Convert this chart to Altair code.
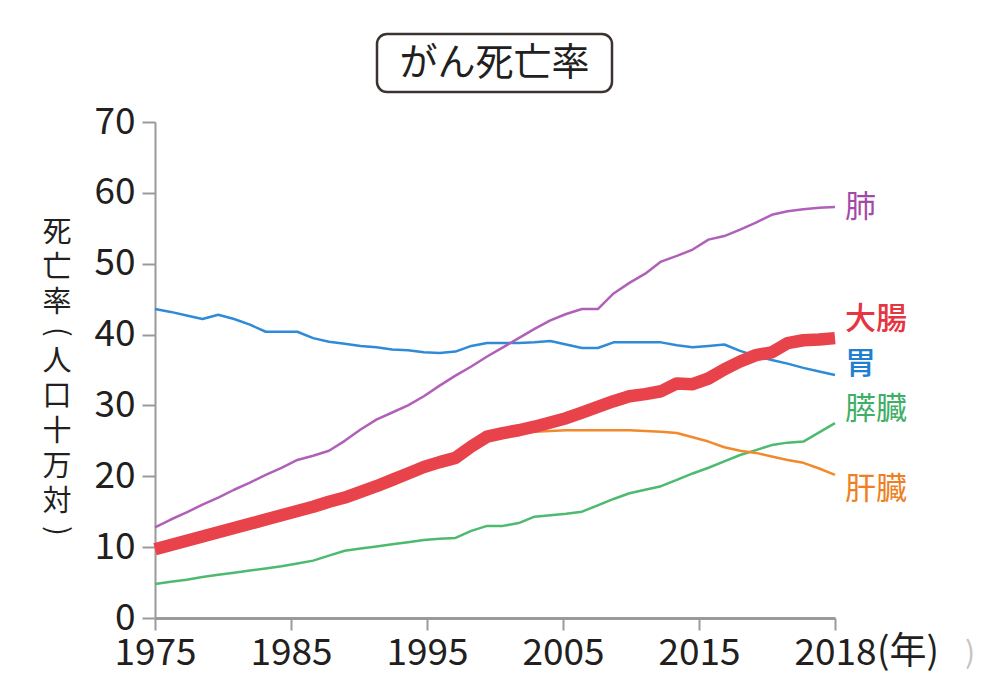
import altair as alt
import pandas as pd

# ---------------- data ----------------
years = list(range(1975, 2019))

lung = [12.8, 13.9, 14.9, 16.0, 17.0, 18.1, 19.1, 20.2, 21.2, 22.3,
        22.9, 23.6, 25.0, 26.6, 28.0, 29.0, 30.0, 31.3, 32.8, 34.2,
        35.5, 36.9, 38.2, 39.5, 40.8, 42.0, 42.9, 43.6, 43.6, 45.8,
        47.3, 48.6, 50.3, 51.1, 52.0, 53.4, 53.9, 54.8, 55.8, 56.9,
        57.4, 57.7, 57.9, 58.0]

stomach = [43.6, 43.2, 42.7, 42.2, 42.8, 42.2, 41.4, 40.4, 40.4, 40.4,
           39.5, 39.0, 38.7, 38.4, 38.2, 37.9, 37.8, 37.5, 37.4, 37.6,
           38.4, 38.8, 38.8, 38.8, 38.9, 39.1, 38.6, 38.1, 38.1, 38.9,
           38.9, 38.9, 38.9, 38.5, 38.2, 38.4, 38.6, 37.7, 37.0, 36.4,
           35.9, 35.3, 34.8, 34.3]

colorectal = [9.7, 10.3, 10.9, 11.5, 12.1, 12.7, 13.3, 13.9, 14.5, 15.1,
              15.7, 16.4, 17.0, 17.8, 18.6, 19.5, 20.4, 21.3, 22.0, 22.6,
              24.2, 25.6, 26.1, 26.5, 27.0, 27.6, 28.2, 29.0, 29.8, 30.6,
              31.3, 31.6, 32.0, 33.1, 33.0, 33.8, 35.1, 36.2, 37.1, 37.5,
              38.8, 39.2, 39.3, 39.5]

pancreas = [4.8, 5.1, 5.4, 5.8, 6.1, 6.4, 6.7, 7.0, 7.3, 7.7,
            8.1, 8.8, 9.5, 9.8, 10.1, 10.4, 10.7, 11.0, 11.2, 11.3,
            12.3, 13.0, 13.0, 13.4, 14.3, 14.5, 14.7, 15.0, 15.9, 16.8,
            17.6, 18.1, 18.6, 19.5, 20.4, 21.2, 22.1, 23.0, 23.7, 24.4,
            24.75, 24.9, 26.2, 27.5]

liver_years = list(range(1998, 2019))
liver = [26.2, 26.3, 26.4, 26.5, 26.5, 26.5, 26.5, 26.5, 26.4, 26.3,
         26.1, 25.5, 24.9, 24.1, 23.6, 23.3, 22.8, 22.3, 21.9, 21.1, 20.2]

# draw order (last on top)
series_names = ["胃", "肺", "膵臓", "肝臓", "大腸"]
series_colors = ["#2f8ad8", "#b060b8", "#4dba70", "#f28a2c", "#e8424b"]
series_widths = [2.5, 2.5, 2.5, 2.5, 12.5]

label_names = ["肺", "大腸", "胃", "膵臓", "肝臓"]
label_values = [57.9, 42.1, 35.7, 29.4, 18.1]
label_colors = ["#a24aa8", "#e53540", "#1f7fd0", "#3fae66", "#ee7f22"]
label_bold = [False, True, True, False, False]

x_tick_labels = ["1975", "1985", "1995", "2005", "2015", "2018"]
y_ticks = [0, 10, 20, 30, 40, 50, 60, 70]
y_title = "死亡率(人口十万対)"
chart_title = "がん死亡率"
year_unit = "(年)"

FONT = "Noto Sans CJK JP"
TEXT = "#231f20"
AXIS = "#9a9a9a"

# ---------------- build tables ----------------
data_map = {
    "肺": (years, lung),
    "胃": (years, stomach),
    "大腸": (years, colorectal),
    "膵臓": (years, pancreas),
    "肝臓": (liver_years, liver),
}

x_min, x_max = 1975, 2018
x_scale = alt.Scale(domain=[x_min, x_max], nice=False, zero=False)
y_scale = alt.Scale(domain=[0, 70], nice=False, zero=True)

n = len(x_tick_labels)
step = (x_max - x_min) / (n - 1)
x_tick_values = [x_min + i * step for i in range(n)]
label_expr = "[" + ",".join("'%s'" % t for t in x_tick_labels) + "][round((datum.value-%d)/%f)]" % (x_min, step)

x_axis = alt.Axis(values=x_tick_values, labelExpr=label_expr, title=None, grid=False,
                  tickSize=12, tickWidth=2, tickColor=AXIS, domainColor=AXIS, domainWidth=3,
                  labelFont=FONT, labelFontSize=37, labelColor=TEXT, labelPadding=5,
                  labelFlush=False, labelOverlap=False)
y_axis = alt.Axis(values=y_ticks, title=None,
                  grid=False, tickSize=13, tickWidth=2, tickColor=AXIS, domainColor=AXIS,
                  domainWidth=2, labelFont=FONT, labelFontSize=37, labelColor=TEXT,
                  labelPadding=7, labelFlush=False, labelOverlap=False)

X = alt.X("year:Q", scale=x_scale, axis=x_axis)
Y = alt.Y("value:Q", scale=y_scale, axis=y_axis)

layers = []
for name, color, w in zip(series_names, series_colors, series_widths):
    ys, vs = data_map[name]
    d = pd.DataFrame({"year": ys, "value": vs, "series": name})
    layers.append(
        alt.Chart(d).mark_line(color=color, strokeWidth=w, strokeJoin="round", strokeCap="butt").encode(
            x=X, y=Y)
    )

lab = pd.DataFrame({"name": label_names, "value": label_values, "bold": label_bold,
                    "year": [x_max] * len(label_names)})
color_scale = alt.Scale(domain=label_names, range=label_colors)
for bold in (False, True):
    layers.append(
        alt.Chart(lab[lab["bold"] == bold]).mark_text(
            align="left", baseline="middle", dx=10, font=FONT, fontSize=31,
            fontWeight=500 if bold else "normal").encode(
            x=X, y=Y,
            text="name:N",
            color=alt.Color("name:N", scale=color_scale, legend=None),
        )
    )

# vertical (stacked) y-axis title; brackets turned to read vertically
rows = []
pos = 93.0
for ch in y_title:
    is_br = ch in "()"
    pitch = 24.0 if is_br else 35.0
    rows.append({"ch": ch, "py": pos + pitch / 2, "br": is_br})
    pos += pitch
ytdf = pd.DataFrame(rows)
layers.append(
    alt.Chart(ytdf[~ytdf["br"]]).mark_text(align="center", baseline="middle", font=FONT,
                                          fontSize=29, color=TEXT).encode(
        x=alt.value(-98), y=alt.Y("py:Q", scale=None), text="ch:N")
)
layers.append(
    alt.Chart(ytdf[ytdf["br"]]).mark_text(align="center", baseline="middle", font=FONT,
                                         fontSize=29, color=TEXT, angle=90).encode(
        x=alt.value(-98), y=alt.Y("py:Q", scale=None), text="ch:N")
)

unit = pd.DataFrame({"t": [year_unit], "year": [x_max]})
layers.append(
    alt.Chart(unit).mark_text(align="left", baseline="top", dx=42, font=FONT, fontSize=37,
                              color=TEXT).encode(
        x=X, y=alt.value(513), text="t:N")
)
stray = pd.DataFrame({"t": [")"], "year": [x_max]})
layers.append(
    alt.Chart(stray).mark_text(align="left", baseline="top", dx=130, font=FONT, fontSize=30,
                               color="#c4c4c4").encode(
        x=X, y=alt.value(517), text="t:N")
)

tdf = pd.DataFrame({"t": [chart_title]})
layers.append(
    alt.Chart(tdf).mark_rect(fill="white", stroke="#3a3330", strokeWidth=2.5, cornerRadius=10).encode(
        x=alt.value(222), x2=alt.value(457), y=alt.value(-88), y2=alt.value(-30))
)
layers.append(
    alt.Chart(tdf).mark_text(align="center", baseline="middle", font=FONT, fontSize=38,
                             color=TEXT).encode(
        x=alt.value(339.5), y=alt.value(-58), text="t:N")
)

chart = alt.layer(*layers).properties(
    width=680, height=496,
    padding={"left": 147, "top": 114, "right": 157, "bottom": 76},
    autosize=alt.AutoSizeParams(type="none"),
    background="white",
).configure_view(stroke=None)

chart.save("out.html", embed_options={"renderer": "svg", "actions": False})
